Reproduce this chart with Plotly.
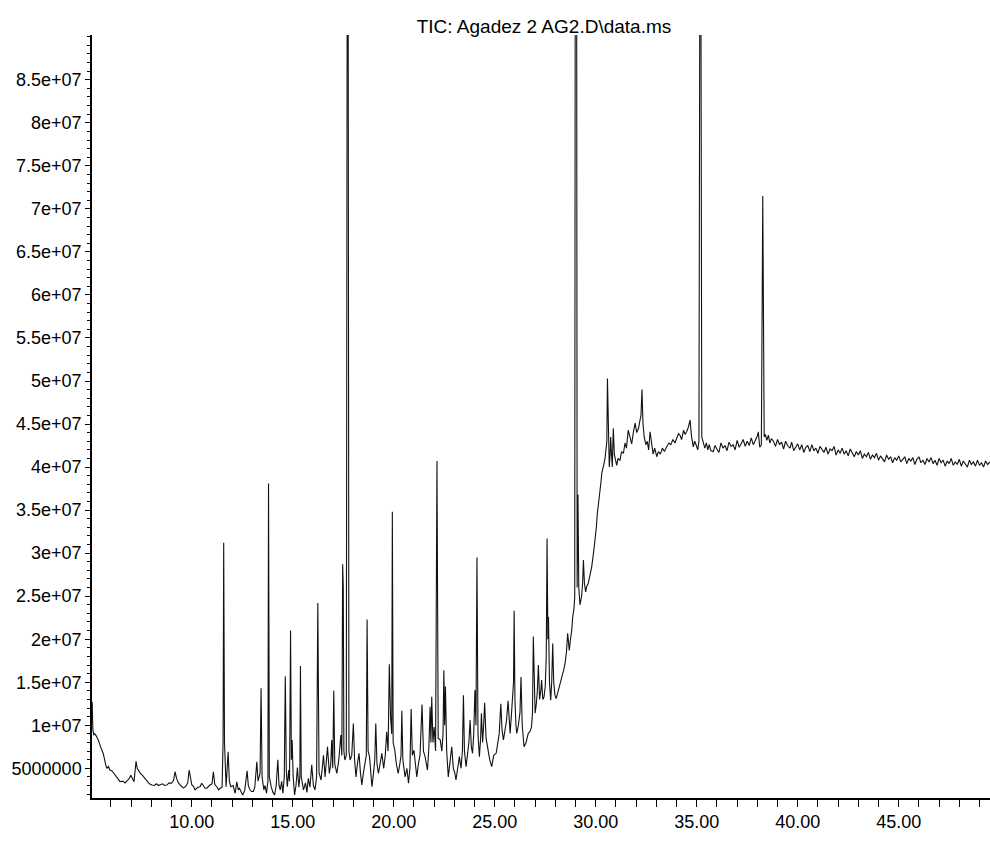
import plotly.graph_objects as go

title_text = "TIC: Agadez 2 AG2.D\\data.ms"

# Retention time (min) and TIC abundance (millions of counts)
# Part A: 5 - 36 min
rt_a = [
    5.07, 5.10, 5.15, 5.20, 5.26, 5.37, 5.50, 5.62, 5.72, 5.79,
    5.87, 5.95, 6.05, 6.20, 6.30, 6.45, 6.60, 6.70, 6.78, 6.90,
    6.98, 7.08, 7.14, 7.24, 7.30, 7.38, 7.45, 7.55, 7.69, 7.80,
    7.90, 8.02, 8.15, 8.25, 8.35, 8.43, 8.55, 8.65, 8.76, 8.88,
    9.00, 9.10, 9.17, 9.25, 9.34, 9.45, 9.59, 9.70, 9.80, 9.87,
    9.93, 10.00, 10.08, 10.16, 10.30, 10.41, 10.49, 10.58, 10.66, 10.74,
    10.82, 10.90, 11.00, 11.07, 11.14, 11.24, 11.33, 11.40, 11.50, 11.55,
    11.58, 11.62, 11.70, 11.80, 11.86, 11.93, 12.05, 12.15, 12.23, 12.30,
    12.36, 12.45, 12.52, 12.62, 12.74, 12.80, 12.88, 12.96, 13.05, 13.12,
    13.22, 13.28, 13.32, 13.38, 13.43, 13.48, 13.57, 13.63, 13.70, 13.77,
    13.80, 13.84, 13.93, 14.02, 14.10, 14.18, 14.26, 14.32, 14.38, 14.45,
    14.51, 14.58, 14.63, 14.68, 14.73, 14.80, 14.84, 14.89, 14.93, 14.97,
    15.02, 15.09, 15.16, 15.23, 15.30, 15.35, 15.38, 15.42, 15.53, 15.63,
    15.70, 15.77, 15.85, 15.94, 16.02, 16.10, 16.18, 16.24, 16.30, 16.40,
    16.46, 16.52, 16.60, 16.66, 16.72, 16.81, 16.88, 16.93, 16.98, 17.03,
    17.08, 17.18, 17.28, 17.38, 17.43, 17.47, 17.50, 17.53, 17.58, 17.65,
    17.72, 17.78, 17.84, 17.92, 18.00, 18.06, 18.13, 18.20, 18.28, 18.35,
    18.42, 18.50, 18.58, 18.64, 18.68, 18.73, 18.80, 18.86, 18.92, 19.00,
    19.06, 19.11, 19.17, 19.24, 19.32, 19.41, 19.50, 19.58, 19.65, 19.72,
    19.78, 19.84, 19.90, 19.93, 19.97, 20.05, 20.13, 20.22, 20.30, 20.36,
    20.40, 20.45, 20.56, 20.65, 20.73, 20.80, 20.86, 20.92, 21.00, 21.07,
    21.14, 21.22, 21.30, 21.40, 21.47, 21.55, 21.62, 21.67, 21.74, 21.80,
    21.84, 21.88, 21.94, 22.00, 22.07, 22.14, 22.20, 22.30, 22.38, 22.44,
    22.48, 22.52, 22.56, 22.62, 22.70, 22.78, 22.87, 22.95, 23.02, 23.08,
    23.16, 23.25, 23.33, 23.40, 23.45, 23.50, 23.58, 23.66, 23.72, 23.78,
    23.84, 23.90, 23.96, 24.02, 24.07, 24.12, 24.17, 24.24, 24.30, 24.34,
    24.40, 24.45, 24.50, 24.57, 24.65, 24.75, 24.85, 24.95, 25.07, 25.15,
    25.22, 25.30, 25.36, 25.43, 25.50, 25.58, 25.66, 25.72, 25.76, 25.82,
    25.89, 25.93, 25.96, 26.00, 26.05, 26.09, 26.17, 26.25, 26.30, 26.36,
    26.45, 26.55, 26.66, 26.75, 26.82, 26.87, 26.91, 26.95, 27.00, 27.06,
    27.11, 27.16, 27.22, 27.28, 27.32, 27.38, 27.44, 27.50, 27.55, 27.59,
    27.63, 27.66, 27.71, 27.77, 27.82, 27.87, 27.92, 27.98, 28.04, 28.12,
    28.18, 28.24, 28.30, 28.36, 28.42, 28.48, 28.55, 28.61, 28.65, 28.69,
    28.75, 28.81, 28.86, 28.92, 28.96, 29.02, 29.08, 29.12, 29.16, 29.22,
    29.30, 29.35, 29.39, 29.44, 29.50, 29.55, 29.63, 29.72, 29.80, 29.90,
    29.97, 30.03, 30.08, 30.15, 30.21, 30.26, 30.30, 30.36, 30.41, 30.46,
    30.51, 30.55, 30.58, 30.62, 30.67, 30.71, 30.74, 30.78, 30.82, 30.87,
    30.92, 30.98, 31.04, 31.10, 31.20, 31.28, 31.37, 31.45, 31.52, 31.61,
    31.70, 31.78, 31.86, 31.95, 32.03, 32.12, 32.18, 32.24, 32.29, 32.34,
    32.40, 32.48, 32.55, 32.62, 32.69, 32.76, 32.84, 32.92, 33.02, 33.10,
    33.20, 33.30, 33.40, 33.52, 33.62, 33.72, 33.82, 33.92, 34.02, 34.10,
    34.17, 34.25, 34.35, 34.42, 34.50, 34.58, 34.67, 34.74, 34.83, 34.90,
    34.98, 35.05, 35.11, 35.18, 35.25, 35.33, 35.40, 35.48, 35.55, 35.62,
    35.70, 35.82, 35.90,
]

tic_a = [
    12.7, 9.5, 8.9, 9.0, 8.8, 8.3, 7.4, 6.7, 5.6, 5.0,
    5.2, 4.8, 4.7, 4.2, 3.9, 3.45, 3.5, 3.3, 3.5, 3.8,
    4.2, 3.7, 3.45, 5.8, 5.0, 4.7, 4.4, 4.2, 3.85, 3.5,
    3.2, 3.06, 3.0, 3.2, 3.0, 3.1, 3.2, 3.0, 3.05, 3.3,
    3.26, 3.6, 4.6, 3.8, 3.3, 3.0, 2.7, 2.9, 3.3, 4.8,
    3.9, 3.1, 2.9, 2.5, 2.8, 2.86, 3.26, 2.9, 2.68, 2.7,
    2.9, 3.06, 3.2, 4.6, 3.1, 2.86, 2.5, 2.68, 2.8, 8.0,
    31.2, 8.0, 2.86, 6.93, 3.5, 2.86, 3.0, 2.1, 3.44, 2.5,
    2.68, 2.2, 1.9, 2.4, 4.7, 3.0, 2.5, 2.3, 2.3, 2.8,
    5.77, 3.5, 4.0, 4.4, 14.3, 4.0, 2.5, 3.0, 2.1, 3.5,
    38.1, 4.0, 2.86, 2.2, 1.9, 3.0, 6.0, 3.0, 2.5, 3.5,
    2.1, 4.0, 15.7, 4.8, 2.86, 4.8, 3.5, 21.0, 6.0, 8.3,
    4.0, 1.9, 3.0, 5.1, 2.8, 4.0, 16.9, 4.0, 2.5, 3.3,
    2.2, 3.84, 2.8, 5.4, 3.0, 2.5, 4.0, 24.2, 4.5, 3.64,
    5.0, 6.5, 4.0, 5.5, 7.5, 4.4, 5.5, 8.3, 5.0, 14.0,
    5.5, 4.4, 6.0, 8.87, 6.5, 28.7, 26.0, 7.0, 5.96, 6.5,
    150.0, 7.0, 5.96, 6.5, 10.2, 6.0, 4.0, 5.5, 6.74, 4.5,
    3.06, 4.5, 5.5, 6.5, 22.3, 7.0, 6.35, 4.5, 2.86, 4.5,
    6.0, 10.2, 5.5, 4.4, 5.5, 6.74, 5.0, 6.5, 9.25, 7.0,
    17.1, 11.0, 9.0, 34.8, 8.0, 7.1, 5.5, 4.4, 5.5, 6.5,
    11.7, 6.0, 4.0, 5.0, 3.26, 5.0, 11.9, 6.5, 7.1, 5.5,
    4.0, 5.5, 6.5, 12.4, 7.0, 6.35, 5.5, 4.8, 7.5, 12.15,
    8.0, 13.3, 8.0, 9.8, 7.0, 40.7, 8.5, 8.3, 7.0, 9.0,
    16.4, 10.0, 14.5, 7.0, 4.0, 5.5, 7.5, 5.0, 4.5, 3.64,
    5.0, 6.35, 5.0, 7.0, 13.5, 7.0, 5.2, 6.5, 8.0, 10.6,
    7.5, 6.74, 9.0, 14.1, 10.0, 29.5, 9.0, 6.35, 8.5, 11.4,
    8.0, 10.0, 12.6, 8.5, 7.1, 6.0, 5.2, 6.5, 6.74, 8.0,
    9.0, 12.5, 9.5, 8.3, 9.5, 10.5, 12.85, 10.0, 9.06, 11.0,
    14.1, 15.0, 23.3, 13.0, 10.0, 9.06, 10.0, 11.5, 15.6, 10.0,
    7.5, 8.0, 9.06, 9.3, 9.8, 11.5, 20.3, 14.0, 11.4, 12.5,
    14.0, 17.0, 13.0, 14.0, 15.25, 13.0, 13.3, 14.5, 18.0, 31.7,
    20.0, 22.6, 15.0, 12.9, 15.0, 19.5, 15.0, 13.5, 13.1, 13.8,
    14.3, 14.7, 15.3, 15.8, 16.5, 17.2, 18.5, 20.7, 19.5, 18.7,
    20.0, 21.0, 22.6, 23.5, 24.9, 200.0, 26.0, 36.8, 26.0, 24.0,
    25.0, 26.5, 29.2, 26.5, 25.5, 26.1, 26.5, 27.5, 28.4, 30.2,
    31.5, 33.0, 34.6, 35.9, 36.9, 38.3, 39.3, 39.8, 40.4, 41.0,
    42.0, 43.0, 50.3, 43.0, 40.0, 41.5, 43.5, 41.5, 40.0, 44.5,
    41.5, 40.8, 40.2, 41.0, 40.8, 41.8, 41.6, 42.8, 42.2, 44.3,
    43.4, 42.7, 44.0, 45.1, 44.0, 44.5, 45.3, 46.0, 49.0, 45.0,
    43.5, 42.6, 43.0, 42.0, 44.1, 42.5, 41.5, 42.2, 41.2, 41.8,
    41.5, 42.2, 41.8, 42.4, 42.8, 42.6, 43.2, 42.8, 43.4, 43.9,
    43.7, 43.2, 44.3, 43.8, 44.1, 44.6, 45.45, 43.6, 42.35, 43.0,
    42.5, 42.0, 43.0, 130.0, 43.5, 42.9, 42.2, 42.8, 42.0, 42.6,
    41.9, 41.8, 42.5,
]

# Part B: 36 - 49.5 min (noisy plateau with the 38.27 min peak)
rt_b = [
    36.00, 36.10, 36.20, 36.30, 36.40, 36.50, 36.60, 36.70, 36.80, 36.90,
    37.00, 37.10, 37.20, 37.30, 37.40, 37.50, 37.60, 37.70, 37.80, 37.90,
    38.00, 38.05, 38.12, 38.20, 38.27, 38.34,
    38.40, 38.47, 38.55, 38.62, 38.70,
    38.80, 38.90, 39.00, 39.10, 39.20, 39.30, 39.40, 39.50, 39.62,
    39.70, 39.80, 39.90,
    40.00, 40.10, 40.20, 40.30, 40.40, 40.50, 40.60, 40.70, 40.80, 40.90,
    41.00, 41.10, 41.20, 41.30, 41.40, 41.50, 41.60, 41.70, 41.80, 41.90,
    42.00, 42.10, 42.20, 42.30, 42.40, 42.50, 42.60, 42.70, 42.80, 42.90,
    43.00, 43.10, 43.20, 43.30, 43.40, 43.50, 43.60, 43.70, 43.80, 43.90,
    44.00, 44.10, 44.20, 44.30, 44.40, 44.50, 44.60, 44.70, 44.80, 44.90,
    45.00, 45.10, 45.20, 45.30, 45.40, 45.50, 45.60, 45.70, 45.80, 45.90,
    46.00, 46.10, 46.20, 46.30, 46.40, 46.50, 46.60, 46.70, 46.80, 46.90,
    47.00, 47.10, 47.20, 47.30, 47.40, 47.50, 47.60, 47.70, 47.80, 47.90,
    48.00, 48.10, 48.20, 48.30, 48.40, 48.50, 48.60, 48.70, 48.80, 48.90,
    49.00, 49.10, 49.20, 49.30, 49.40, 49.52,
]

tic_b = [
    42.1, 41.7, 42.8, 42.2, 42.5, 41.9, 42.9, 42.4, 42.6, 42.0,
    43.1, 42.3, 42.7, 43.2, 42.4, 43.0, 42.5, 43.4, 42.6, 43.1,
    43.6, 44.1, 42.3, 42.6, 71.5, 43.5,
    43.8, 43.1, 43.7, 42.8, 43.3,
    43.0, 42.4, 43.2, 42.6, 42.9, 42.1, 43.0, 42.5, 42.2,
    42.9, 41.9, 42.4,
    42.7, 42.0, 42.6, 41.7, 42.3, 42.5, 41.8, 42.6, 41.9, 42.2,
    41.6, 42.4, 42.0, 41.7, 42.3, 41.5, 42.1, 41.9, 42.4, 41.4,
    42.0, 41.6, 42.2, 41.5, 41.9, 41.3, 42.1, 41.6, 41.2, 41.8,
    41.4, 41.9, 41.0, 41.5, 41.2, 41.7, 40.9, 41.4, 41.1, 41.6,
    40.8, 41.3, 41.0, 40.6, 41.4, 40.9, 41.2, 40.5, 41.1, 40.8,
    41.3, 40.6, 40.9, 41.2, 40.4, 41.0, 40.7, 41.1, 40.3, 40.9,
    41.2, 40.5, 40.8, 40.3, 41.0, 40.6, 41.1, 40.4, 40.8, 40.2,
    41.0, 40.5, 40.8, 40.1, 40.7, 40.4, 41.0, 40.2, 40.6, 40.3,
    40.9, 40.1, 40.7, 40.4, 40.0, 40.8, 40.3, 40.6, 40.1, 40.8,
    40.2, 40.5, 40.0, 40.7, 40.3, 40.6,
]

assert len(rt_a) == len(tic_a), (len(rt_a), len(tic_a))
assert len(rt_b) == len(tic_b), (len(rt_b), len(tic_b))
rt = rt_a + rt_b
tic = [v * 1e6 for v in tic_a + tic_b]

x_range = [5.06, 49.52]
y_range = [1.55e6, 9.02e7]
x_tickvals = [10, 15, 20, 25, 30, 35, 40, 45]
x_ticktext = ["10.00", "15.00", "20.00", "25.00", "30.00", "35.00", "40.00", "45.00"]
y_tickvals = [5e6, 1e7, 1.5e7, 2e7, 2.5e7, 3e7, 3.5e7, 4e7, 4.5e7, 5e7,
              5.5e7, 6e7, 6.5e7, 7e7, 7.5e7, 8e7, 8.5e7]
y_ticktext = ["5000000", "1e+07", "1.5e+07", "2e+07", "2.5e+07", "3e+07", "3.5e+07",
              "4e+07", "4.5e+07", "5e+07", "5.5e+07", "6e+07", "6.5e+07", "7e+07",
              "7.5e+07", "8e+07", "8.5e+07"]

fig = go.Figure()
fig.add_trace(go.Scatter(
    x=rt, y=tic, mode="lines",
    line=dict(color="#111111", width=1.1),
    showlegend=False, hoverinfo="x+y",
))

font_family = "Liberation Sans, Arial, sans-serif"

fig.update_layout(
    width=990, height=859,
    margin=dict(l=92, r=0, t=35, b=61, pad=0),
    paper_bgcolor="white", plot_bgcolor="white",
    font=dict(family=font_family, size=18, color="black"),
    title=dict(text=title_text, x=0.5495, xanchor="center",
               y=1 - 26 / 859, yanchor="middle", yref="container",
               font=dict(family=font_family, size=19, color="black")),
    xaxis=dict(
        range=x_range, showgrid=False, zeroline=False,
        showline=True, linecolor="black", linewidth=1.5,
        tickmode="array", tickvals=x_tickvals, ticktext=x_ticktext,
        ticks="outside", ticklen=7, tickwidth=1, tickcolor="black",
        minor=dict(tickmode="linear", tick0=0, dtick=1, ticks="outside",
                   ticklen=7, tickwidth=1, tickcolor="black", showgrid=False),
        tickfont=dict(size=18), fixedrange=True,
    ),
    yaxis=dict(
        range=y_range, showgrid=False, zeroline=False,
        showline=True, linecolor="black", linewidth=1.5,
        tickmode="array", tickvals=y_tickvals, ticktext=y_ticktext,
        ticks="outside", ticklen=5, tickwidth=1, tickcolor="black",
        minor=dict(tickmode="linear", tick0=0, dtick=1e6, ticks="outside",
                   ticklen=3, tickwidth=1, tickcolor="black", showgrid=False),
        tickfont=dict(size=18), fixedrange=True,
    ),
)

fig.write_html("out.html")
